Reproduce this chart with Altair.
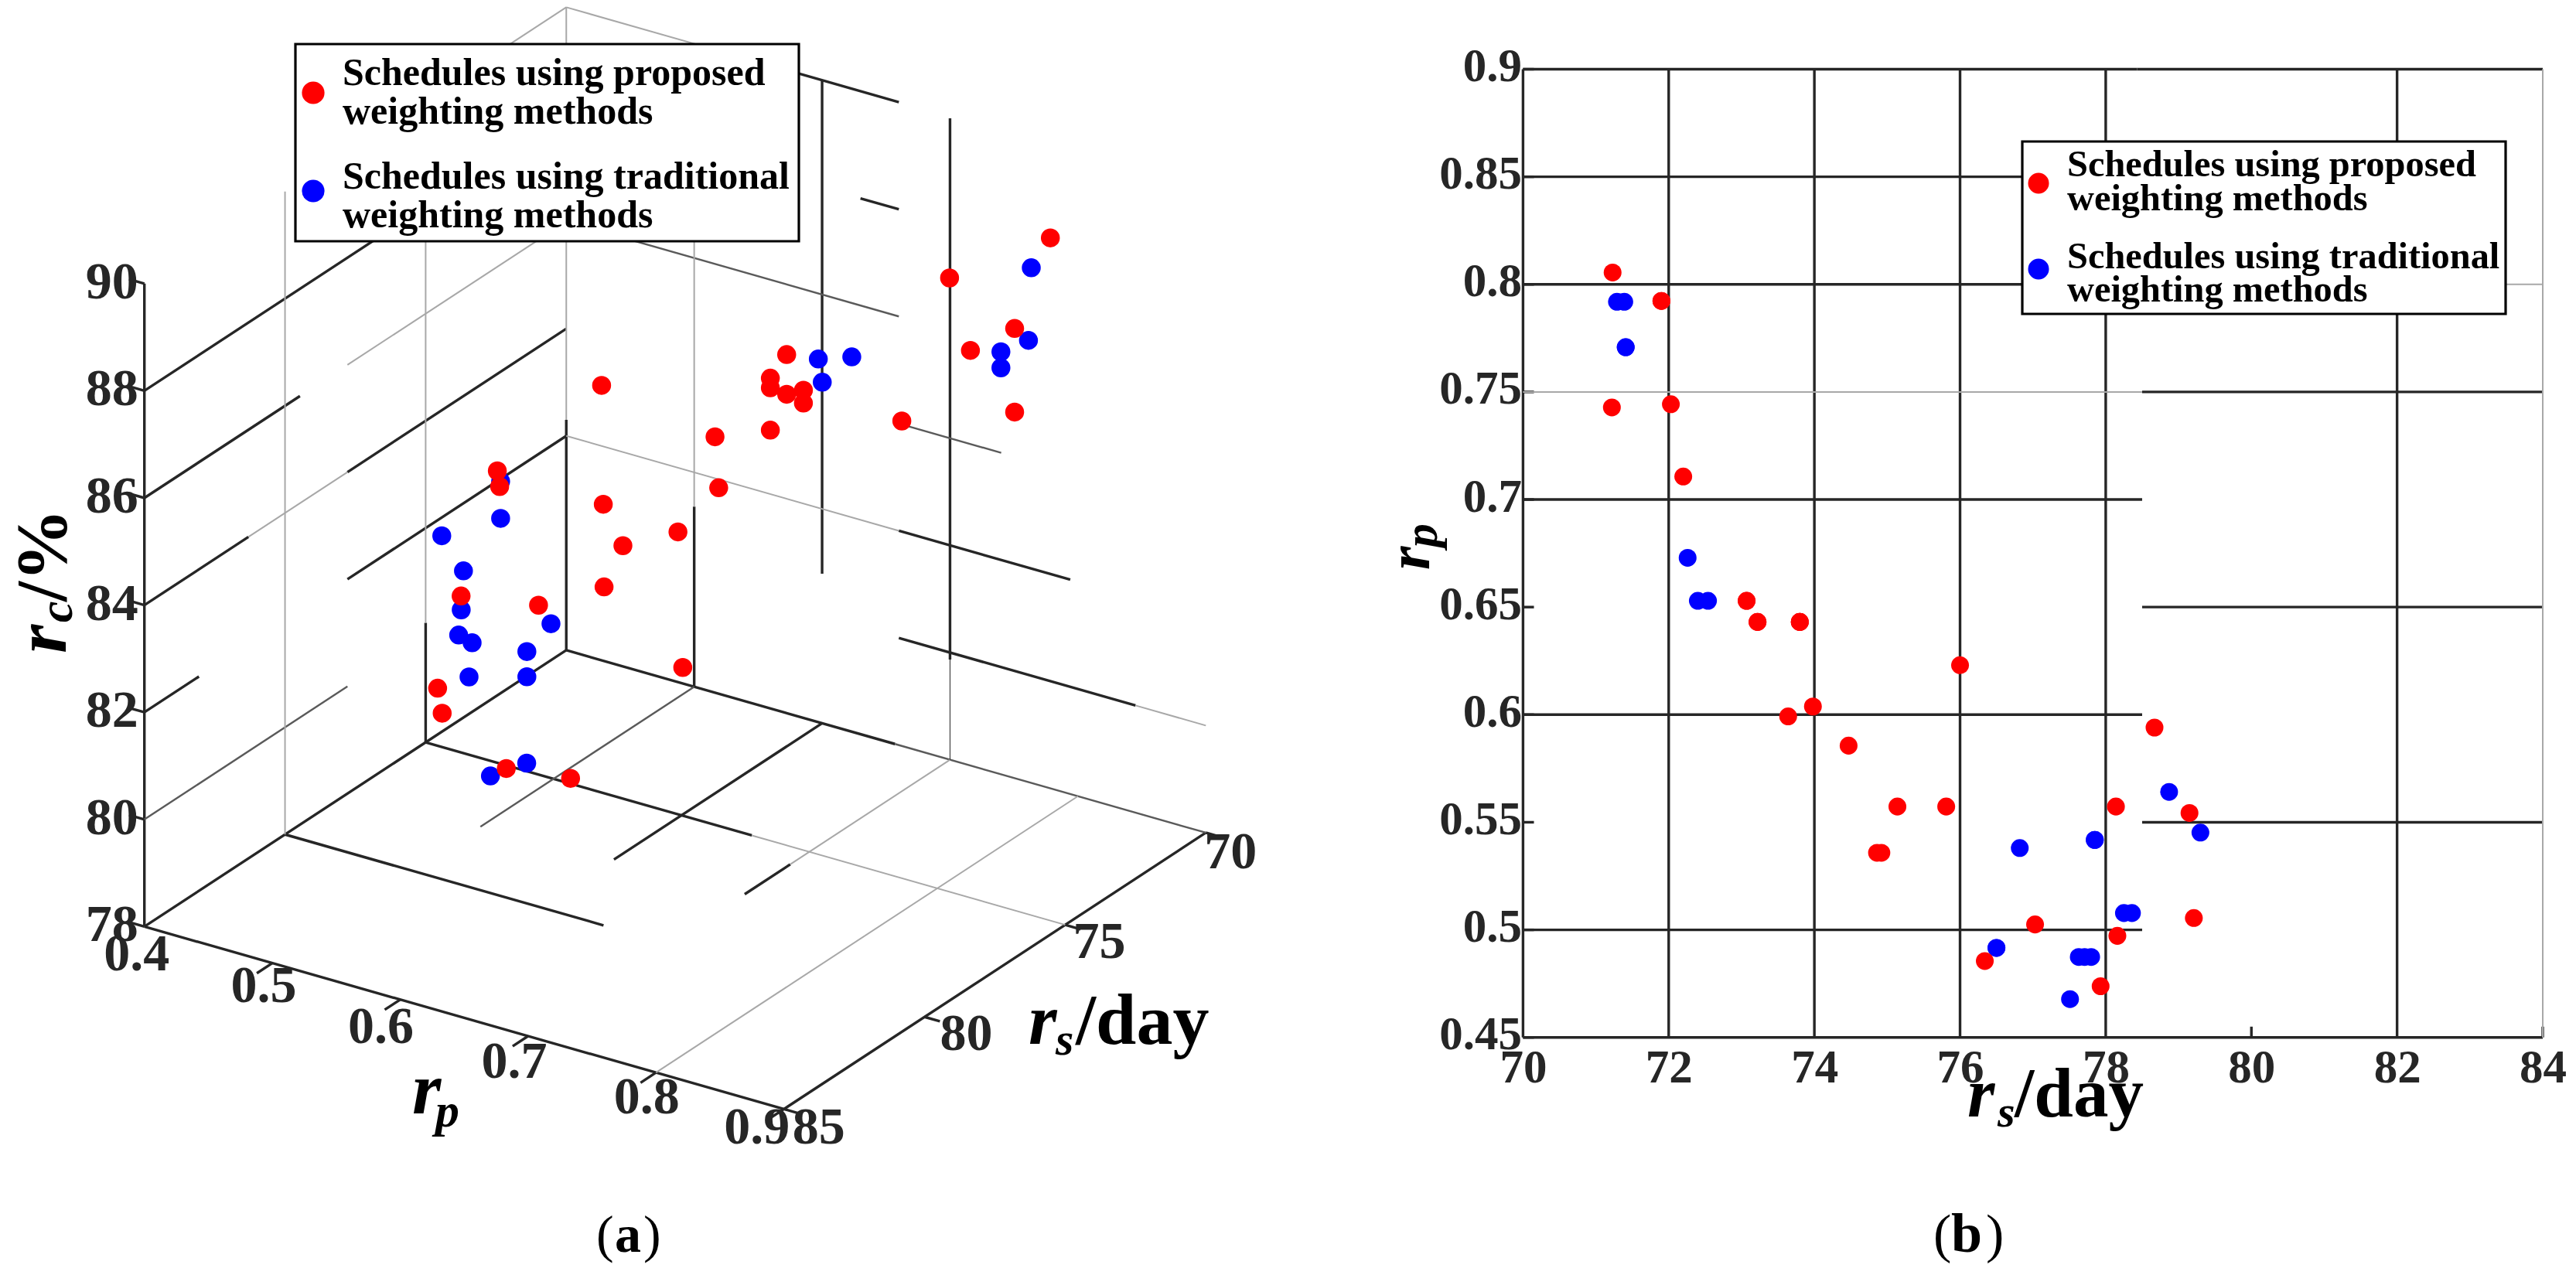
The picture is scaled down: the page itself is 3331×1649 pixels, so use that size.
import altair as alt
import pandas as pd

# ---------- data: (a) and (b) show the same schedules ----------
red_rs = [71.23, 71.90, 71.90, 71.22, 72.03, 72.20, 73.07, 73.07, 73.22, 73.22, 73.80, 73.80, 73.80, 73.64, 73.98,
          76.00, 74.47, 75.14, 75.81, 74.86, 74.92, 78.14, 78.67, 79.15, 79.21, 78.16, 77.03, 76.34, 77.93]
red_rp = [.8055, .7923, .7923, .7428, .7443, .7107, .6529, .6529, .6431, .6431, .6431, .6431, .6431, .5992, .6038,
          .6230, .5856, .5573, .5573, .5358, .5358, .5573, .5940, .5543, .5055, .4972, .5025, .4855, .4738]
red_rc = [88.88, 87.33, 85.77, 86.35, 87.99, 85.15, 85.63, 85.39, 85.54, 86.28, 86.04, 85.86, 85.07, 83.64, 84.74,
          81.26, 83.01, 82.79, 82.25, 83.32, 85.56, 82.71, 79.91, 79.99, 80.71, 82.48, 84.17, 84.11, 80.52]
blue_rs = [71.29, 71.39, 71.41, 71.41, 72.26, 72.40, 72.54, 78.87, 79.30, 77.85, 77.85, 76.82, 78.25, 78.36,
           76.50, 76.50, 77.63, 77.71, 77.80, 77.51]
blue_rp = [.7919, .7919, .7708, .7708, .6729, .6529, .6529, .5641, .5452, .5418, .5418, .5380, .5078, .5078,
           .4916, .4916, .4874, .4874, .4874, .4678]
blue_rc = [88.25, 86.93, 86.58, 86.28, 86.11, 85.55, 86.03, 80.06, 79.84, 81.64, 81.17, 81.78, 81.71, 81.11,
           83.32, 84.01, 82.70, 82.00, 81.56, 83.18]
legend_lines = [["Schedules using proposed", "weighting methods"], ["Schedules using traditional", "weighting methods"]]
rc_ticks = [78, 80, 82, 84, 86, 88, 90]
rp_ticks_a = [0.4, 0.5, 0.6, 0.7, 0.8, 0.9]
rs_ticks_a = [70, 75, 80, 85]
rs_ticks_b = [70, 72, 74, 76, 78, 80, 82, 84]
rp_ticks_b = [0.45, 0.5, 0.55, 0.6, 0.65, 0.7, 0.75, 0.8, 0.85, 0.9]

# 3-D box of panel (a): segments (style, rs0, rp0, rc0, rs1, rp1, rc1)
segments_a = [
    ("grey", 78.98, .4, 90, 70, .4, 90), ("dark", 85, .4, 88, 70, .4, 88),
    ("dark", 85, .4, 86, 79.47, .4, 86), ("grey", 77.78, .4, 86, 70, .4, 86),
    ("dark", 85, .4, 84, 81.3, .4, 84), ("grey", 81.3, .4, 84, 77.78, .4, 84), ("dark", 77.78, .4, 84, 70, .4, 84),
    ("dark", 85, .4, 82, 83.06, .4, 82), ("dark", 77.78, .4, 82, 70, .4, 82),
    ("mid", 85, .4, 80, 77.78, .4, 80), ("dark", 85, .4, 78, 70, .4, 78),
    ("grey", 80, .4, 78, 80, .4, 90), ("grey", 75, .4, 80.23, 75, .4, 90), ("dark", 75, .4, 78, 75, .4, 80.23),
    ("grey", 70, .4, 82.3, 70, .4, 90), ("dark", 70, .4, 78, 70, .4, 82.3), ("dark", 85, .4, 78, 85, .4, 90),
    ("dark", 80, .4, 78, 80, .649, 78), ("dark", 75, .4, 78, 75, .655, 78), ("grey", 75, .655, 78, 75, .9, 78),
    ("dark", 70, .4, 78, 70, .657, 78), ("mid", 70, .657, 78, 70, .9, 78),
    ("mid", 70, .5, 78, 77.6, .5, 78), ("dark", 70, .6, 78, 77.4, .6, 78),
    ("grey", 70, .7, 78, 75.68, .7, 78), ("dark", 75.68, .7, 78, 77.3, .7, 78), ("grey", 70, .8, 78, 85, .8, 78),
    ("dark", 70, .9, 78, 85, .9, 78), ("dark", 85, .4, 78, 85, .9, 78),
    ("grey", 70, .4, 90, 70, .55, 90), ("dark", 70, .55, 90, 70, .66, 90), ("dark", 70, .63, 88, 70, .66, 88),
    ("mid", 70, .4, 86, 70, .66, 86), ("mid", 70, .66, 84, 70, .74, 84),
    ("grey", 70, .4, 82, 70, .66, 82), ("dark", 70, .66, 82, 70, .794, 82),
    ("dark", 70, .66, 80, 70, .845, 80), ("grey", 70, .845, 80, 70, .9, 80),
    ("grey", 70, .5, 81.36, 70, .5, 90), ("dark", 70, .5, 78, 70, .5, 81.36),
    ("dark", 70, .6, 80.79, 70, .6, 90), ("dark", 70, .7, 79.87, 70, .7, 89.97), ("thin", 70, .7, 78, 70, .7, 79.87),
]
segments_a += [("dark", 85, p, 78, 85.55, p, 78) for p in rp_ticks_a[1:]]
segments_a += [("dark", s, .9, 78, s, .912, 78) for s in rs_ticks_a]
segments_a += [("dark", 85, .388, c, 85, .4, c) for c in rc_ticks]

# grid of panel (b): (style, rs0, rs1, rp0, rp1), as broken as in the picture
segments_b = [
    ("dark", 70, 70, .45, .9), ("dark", 70, 84, .45, .45), ("grey", 84, 84, .45, .9),
    ("dark", 72, 72, .45, .9), ("dark", 74, 74, .45, .9), ("dark", 76, 76, .45, .9), ("dark", 78, 78, .45, .9),
    ("dark", 82, 82, .45, .9), ("dark", 80, 80, .45, .455), ("dark", 84, 84, .45, .455),
    ("dark", 70, 78.43, .9, .9), ("dark", 78.43, 84, .9, .9), ("dark", 70, 78.43, .85, .85),
    ("dark", 70, 78.43, .8, .8), ("grey", 78.43, 84, .8, .8), ("grey", 70, 78.5, .75, .75), ("dark", 78.5, 84, .75, .75),
    ("dark", 70, 78.5, .7, .7), ("dark", 78.5, 84, .65, .65), ("dark", 70, 78.5, .6, .6),
    ("dark", 78.5, 84, .55, .55), ("dark", 70, 78.5, .5, .5),
]
segments_b += [("dark", 70, 70.15, v, v) for v in rp_ticks_b]

# ---------- styles / layout ----------
RED, BLUE, INK = "#ff0000", "#0000ff", "#262626"
SERIF = "Liberation Serif"
STY = {"dark": (INK, 3.4), "mid": ("#5a5a5a", 2.4), "grey": ("#a8a8a8", 2), "thin": ("#222222", 1)}
A_W, A_H, A_X, A_Y = 1648, 1630, 8, 8
B_W, B_H, B_X, B_Y = 1660, 1630, 1660, 8
PX_X, PX_Y = 94.186, 2782.7   # px per unit in (b)
X70, Y90 = 1969.4, 87.5
bx_dom = [70 - (X70 - B_X) / PX_X, 70 + (B_X + B_W - X70) / PX_X]
by_dom = [.9 - (B_Y + B_H - Y90) / PX_Y, .9 + (Y90 - B_Y) / PX_Y]

def proj(rs, rp, rc):
    return (186.7 + 1654 * (rp - .4) + 36.37 * (85 - rs),
            1196.4 + 472 * (rp - .4) - 23.83 * (85 - rs) - 69.3 * (rc - 78))

xa = alt.Scale(domain=[A_X, A_X + A_W], nice=False, zero=False)
ya = alt.Scale(domain=[A_Y + A_H, A_Y], nice=False, zero=False)
xb = alt.Scale(domain=bx_dom, nice=False, zero=False)
yb = alt.Scale(domain=by_dom, nice=False, zero=False)
ONE = pd.DataFrame({"k": [0]})

def txt(t, x, y, size, ox, oy, style="normal", weight="bold", angle=0, align="left", color="black"):
    return alt.Chart(ONE).mark_text(text=t, font=SERIF, fontSize=size, fontWeight=weight, fontStyle=style,
                                    angle=angle, align=align, baseline="alphabetic", color=color
                                    ).encode(x=alt.value(x - ox), y=alt.value(y - oy))

def legend(x0, y0, x1, y1, sym_x, sym_y, sym_size, tx, baselines, size, ox, oy):
    parts = [alt.Chart(ONE).mark_rect(fill="white", stroke="black", strokeWidth=3.2).encode(
        x=alt.value(x0 - ox), x2=alt.value(x1 - ox), y=alt.value(y0 - oy), y2=alt.value(y1 - oy))]
    for sy, c in zip(sym_y, [RED, BLUE]):
        parts.append(alt.Chart(ONE).mark_circle(size=sym_size, color=c, opacity=1).encode(
            x=alt.value(sym_x - ox), y=alt.value(sy - oy)))
    flat = [s for pair in legend_lines for s in pair]
    for s, b in zip(flat, baselines):
        parts.append(txt(s, tx, b, size, ox, oy))
    return parts

# ---------- panel (a) ----------
rows = []
for st, a, b, c, d, e, f in segments_a:
    x0, y0 = proj(a, b, c)
    x1, y1 = proj(d, e, f)
    rows.append(dict(st=st, x0=x0, y0=y0, x1=x1, y1=y1))
seg_a = pd.DataFrame(rows)

layers_a = []
for st, (col, w) in STY.items():
    layers_a.append(alt.Chart(seg_a[seg_a.st == st]).mark_rule(color=col, strokeWidth=w).encode(
        x=alt.X("x0:Q", scale=xa, axis=None), x2=alt.X2("x1"),
        y=alt.Y("y0:Q", scale=ya, axis=None), y2=alt.Y2("y1")))

def pts_a(rs, rp, rc, color):
    xy = [proj(*t) for t in zip(rs, rp, rc)]
    df = pd.DataFrame({"rs": rs, "rp": rp, "rc": rc, "sx": [p[0] for p in xy], "sy": [p[1] for p in xy]})
    return alt.Chart(df).mark_circle(size=600, color=color, opacity=1).encode(
        x=alt.X("sx:Q", scale=xa, axis=None), y=alt.Y("sy:Q", scale=ya, axis=None))

layers_a += [pts_a(blue_rs, blue_rp, blue_rc, BLUE), pts_a(red_rs, red_rp, red_rc, RED)]

lab = []
for c in rc_ticks:
    x, y = proj(85, .4, c)
    lab.append(dict(t=str(c), x=x - 42, y=y - 1))
for p, dx, dy in zip(rp_ticks_a, [-10, -11, -25, -18, -12, -35], [37, 30, 36, 34, 33, 25]):
    x, y = proj(85, p, 78)
    lab.append(dict(t=str(p), x=x + dx, y=y + dy))
for s, dx, dy in zip(rs_ticks_a, [32, 44, 54, 45], [26, 23, 23, 25]):
    x, y = proj(s, .9, 78)
    lab.append(dict(t=str(s), x=x + dx, y=y + dy))
layers_a.append(alt.Chart(pd.DataFrame(lab)).mark_text(font=SERIF, fontSize=68, fontWeight="bold", color=INK,
                                                       align="center", baseline="middle").encode(
    x=alt.X("x:Q", scale=xa, axis=None), y=alt.Y("y:Q", scale=ya, axis=None), text="t:N"))

layers_a += legend(382, 55, 1033, 310, 405, [118, 245], 855, 443, [108, 158, 242, 292], 50, A_X, A_Y)
layers_a += [
    txt("r", 85, 843, 96, A_X, A_Y, style="italic", angle=270),
    txt("c", 93, 803, 62, A_X, A_Y, style="italic", angle=270),
    txt("/%", 85, 776, 94, A_X, A_Y, angle=270),
    txt("r", 533, 1438, 96, A_X, A_Y, style="italic"),
    txt("p", 563, 1455, 62, A_X, A_Y, style="italic"),
    txt("r", 1330, 1348, 94, A_X, A_Y, style="italic"),
    txt("s", 1365, 1362, 60, A_X, A_Y, style="italic"),
    txt("/day", 1391, 1348, 94, A_X, A_Y),
    txt("(", 771, 1617, 68, A_X, A_Y, weight="normal"),
    txt("a", 795, 1617, 68, A_X, A_Y),
    txt(")", 832, 1617, 68, A_X, A_Y, weight="normal"),
]
panel_a = alt.layer(*layers_a).properties(width=A_W, height=A_H)

# ---------- panel (b) ----------
seg_b = pd.DataFrame(segments_b, columns=["st", "x0", "x1", "y0", "y1"])
x_axis = alt.Axis(values=rs_ticks_b, domain=False, ticks=False, grid=False, title=None, labelFont=SERIF,
                  labelFontSize=61, labelFontWeight="bold", labelColor=INK, labelPadding=10,
                  labelFlush=False, labelOverlap=False, labelAngle=0, offset=-(B_Y + B_H - 1339.7))
y_axis = alt.Axis(values=rp_ticks_b, domain=False, ticks=False, grid=False, title=None, labelFont=SERIF,
                  labelFontSize=61, labelFontWeight="bold", labelColor=INK, labelPadding=2, format=".2~f",
                  labelFlush=False, labelOverlap=False, labelOffset=-3, offset=-(X70 - B_X))

layers_b = []
for st in ["dark", "grey"]:
    col, w = STY[st]
    layers_b.append(alt.Chart(seg_b[seg_b.st == st]).mark_rule(color=col, strokeWidth=w).encode(
        x=alt.X("x0:Q", scale=xb, axis=x_axis), x2=alt.X2("x1"),
        y=alt.Y("y0:Q", scale=yb, axis=y_axis), y2=alt.Y2("y1")))

def pts_b(rs, rp, color):
    return alt.Chart(pd.DataFrame({"rs": rs, "rp": rp})).mark_circle(size=530, color=color, opacity=1).encode(
        x=alt.X("rs:Q", scale=xb, axis=x_axis), y=alt.Y("rp:Q", scale=yb, axis=y_axis))

layers_b += [pts_b(blue_rs, blue_rp, BLUE), pts_b(red_rs, red_rp, RED)]
layers_b += legend(2615, 181, 3240, 404, 2636, [235, 346], 730, 2673, [226, 270, 344.6, 388.4], 48.4, B_X, B_Y)
layers_b += [
    txt("r", 1848, 735, 78, B_X, B_Y, style="italic", angle=270),
    txt("p", 1858, 706, 62, B_X, B_Y, style="italic", angle=270),
    txt("r", 2544, 1442, 91, B_X, B_Y, style="italic"),
    txt("s", 2583, 1455, 58, B_X, B_Y, style="italic"),
    txt("/day", 2605, 1442, 91, B_X, B_Y),
    txt("(", 2500, 1617, 70, B_X, B_Y, weight="normal"),
    txt("b", 2523, 1617, 72, B_X, B_Y),
    txt(")", 2568, 1617, 70, B_X, B_Y, weight="normal"),
]
panel_b = alt.layer(*layers_b).properties(width=B_W, height=B_H)

chart = alt.hconcat(panel_a, panel_b, spacing=4).properties(padding=0, background="white").configure_view(stroke=None)
chart.save("out.html", embed_options={"renderer": "svg", "actions": False})
